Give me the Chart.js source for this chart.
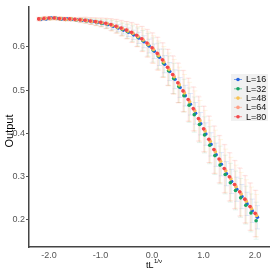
<!DOCTYPE html>
<html>
<head>
<meta charset="utf-8">
<script src="https://cdn.jsdelivr.net/npm/chart.js@4"></script>
<style>
html,body{margin:0;padding:0;background:#fff;}
#wrap{width:273px;height:273px;position:relative;}
</style>
</head>
<body>
<div id="wrap"><canvas id="c"></canvas></div>
<script>
// ---- data ----
const tGrid = [-2.2,-2.1,-2.0,-1.9,-1.8,-1.7,-1.6,-1.5,-1.4,-1.3,-1.2,-1.1,-1.0,-0.9,-0.8,-0.7,-0.6,-0.5,-0.4,-0.3,-0.2,-0.1,0.0,0.1,0.2,0.3,0.4,0.5,0.6,0.7,0.8,0.9,1.0,1.1,1.2,1.3,1.4,1.5,1.6,1.7,1.8,1.9,2.0];
const labels = ["L=16","L=32","L=48","L=64","L=80"];
const xShift = [0.045, 0.02, 0.03, 0.015, 0.0];
const yL16 = [.664,.665,.667,.666,.665,.665,.664,.663,.662,.661,.659,.657,.655,.652,.648,.644,.639,.634,.628,.621,.612,.602,.590,.576,.560,.543,.525,.506,.487,.467,.446,.422,.398,.374,.350,.328,.306,.288,.270,.253,.236,.220,.205];
const yL32 = [.665,.666,.666,.667,.665,.664,.664,.663,.662,.661,.659,.657,.655,.653,.650,.646,.641,.636,.631,.623,.615,.605,.593,.579,.563,.545,.527,.508,.487,.465,.443,.420,.396,.372,.348,.326,.304,.285,.267,.250,.233,.215,.197];
const yL48 = [.665,.666,.666,.666,.666,.664,.665,.663,.663,.661,.659,.658,.656,.654,.650,.646,.642,.637,.632,.624,.616,.606,.594,.580,.565,.548,.531,.512,.493,.473,.452,.429,.405,.381,.357,.335,.313,.294,.276,.259,.242,.225,.209];
const yL64 = [.664,.667,.666,.667,.665,.665,.664,.664,.662,.662,.660,.658,.657,.654,.651,.648,.643,.639,.633,.626,.618,.608,.597,.584,.569,.552,.534,.516,.497,.477,.455,.432,.409,.385,.361,.339,.317,.298,.280,.262,.246,.229,.213];
const yL80 = [.665,.666,.667,.667,.666,.665,.665,.664,.663,.662,.660,.659,.657,.655,.652,.648,.644,.639,.634,.627,.619,.609,.598,.585,.570,.553,.536,.517,.498,.478,.457,.434,.410,.386,.362,.340,.318,.299,.281,.264,.247,.230,.214];
const eL16 = [.002,.002,.002,.002,.002,.002,.002,.002,.003,.003,.004,.004,.005,.006,.007,.008,.009,.010,.011,.013,.014,.016,.017,.019,.020,.021,.022,.023,.024,.025,.025,.026,.026,.027,.027,.027,.028,.028,.028,.028,.027,.027,.027];
const eL32 = [.003,.003,.003,.003,.003,.003,.003,.003,.005,.005,.006,.007,.008,.010,.011,.013,.014,.016,.018,.021,.023,.026,.028,.030,.032,.034,.035,.037,.038,.040,.041,.042,.042,.043,.044,.044,.045,.045,.045,.045,.044,.044,.043];
const eL48 = [.004,.004,.004,.004,.004,.004,.004,.004,.005,.006,.007,.008,.009,.011,.013,.014,.016,.018,.021,.023,.026,.029,.032,.034,.036,.038,.040,.041,.043,.045,.046,.047,.048,.049,.050,.050,.050,.050,.050,.050,.050,.050,.049];
const eL64 = [.004,.004,.004,.004,.004,.004,.004,.004,.006,.007,.008,.009,.010,.012,.014,.016,.018,.020,.023,.026,.029,.032,.035,.038,.040,.042,.044,.046,.048,.050,.051,.052,.053,.054,.055,.055,.056,.056,.056,.056,.055,.055,.054];
const eL80 = [.004,.004,.004,.004,.004,.004,.004,.004,.006,.007,.008,.009,.010,.012,.014,.016,.018,.020,.023,.026,.029,.032,.035,.038,.040,.042,.044,.046,.048,.050,.051,.052,.053,.054,.055,.055,.056,.056,.056,.056,.055,.055,.054];
const xTicks = [-2.0,-1.0,0.0,1.0,2.0];
const yTicks = [0.2,0.3,0.4,0.5,0.6];

const yVals = [yL16,yL32,yL48,yL64,yL80];
const eVals = [eL16,eL32,eL48,eL64,eL80];
const colors = ['#2563e0','#17a463','#f8c352','#ff9e85','#f3474b'];
const barColors = ['rgba(37,99,224,0.13)','rgba(23,164,99,0.10)','rgba(248,195,82,0.14)','rgba(255,158,133,0.16)','rgba(243,71,75,0.10)'];

const datasets = labels.map((lab,i)=>({
  label: lab,
  data: tGrid.map((t,j)=>({x: t + xShift[i], y: yVals[i][j], e: eVals[i][j]})),
  backgroundColor: colors[i],
  borderColor: colors[i],
  pointRadius: 1.8,
  pointBorderWidth: 0,
  showLine: false,
  order: labels.length - i,
  errColor: barColors[i]
}));

const FONT = '"Liberation Sans", Arial, sans-serif';

const errPlugin = {
  id: 'errbars',
  beforeDatasetsDraw(chart){
    const {ctx, scales:{x, y}} = chart;
    ctx.save();
    ctx.lineWidth = 1;
    chart.data.datasets.forEach(ds=>{
      ctx.strokeStyle = ds.errColor;
      ds.data.forEach(p=>{
        const px = x.getPixelForValue(p.x);
        const y1 = y.getPixelForValue(p.y - p.e);
        const y2 = y.getPixelForValue(p.y + p.e);
        ctx.beginPath();
        ctx.moveTo(px, y1); ctx.lineTo(px, y2);
        ctx.moveTo(px-2.5, y1); ctx.lineTo(px+2.5, y1);
        ctx.moveTo(px-2.5, y2); ctx.lineTo(px+2.5, y2);
        ctx.stroke();
      });
    });
    ctx.restore();
  }
};

const decoPlugin = {
  id: 'deco',
  afterDraw(chart){
    const {ctx} = chart;
    ctx.save();
    ctx.fillStyle = '#000';
    ctx.font = '11px ' + FONT;
    ctx.translate(10, 131);
    ctx.rotate(-Math.PI/2);
    ctx.textAlign = 'center';
    ctx.textBaseline = 'middle';
    ctx.fillText('Output', 0, 0);
    ctx.restore();
    ctx.save();
    ctx.fillStyle = '#000';
    ctx.textBaseline = 'alphabetic';
    ctx.textAlign = 'left';
    ctx.font = '9px ' + FONT;
    const w = ctx.measureText('tL').width;
    const x0 = 146;
    ctx.fillText('tL', x0, 268);
    ctx.font = '6px ' + FONT;
    ctx.fillText('1/\u03BD', x0 + w + 0.5, 263);
    ctx.restore();
    ctx.save();
    ctx.fillStyle = '#f1f1f1';
    ctx.fillRect(231, 74, 37, 47);
    ctx.font = '9px ' + FONT;
    ctx.textBaseline = 'middle';
    ctx.textAlign = 'left';
    chart.data.datasets.forEach((ds,i)=>{
      const yy = 79.5 + i*9.3;
      ctx.strokeStyle = ds.borderColor;
      ctx.globalAlpha = 0.6;
      ctx.lineWidth = 1;
      ctx.beginPath(); ctx.moveTo(234, yy); ctx.lineTo(242, yy); ctx.stroke();
      ctx.globalAlpha = 1;
      ctx.fillStyle = ds.backgroundColor;
      ctx.beginPath(); ctx.arc(238, yy, 1.8, 0, Math.PI*2); ctx.fill();
      ctx.fillStyle = '#111';
      ctx.fillText(ds.label, 246, yy + 0.5);
    });
    ctx.restore();
  }
};

new Chart(document.getElementById('c'), {
  type: 'scatter',
  data: { datasets },
  options: {
    responsive: true,
    maintainAspectRatio: false,
    devicePixelRatio: 1,
    animation: false,
    layout: { padding: { left: 0, top: 3, right: 3, bottom: 0 } },
    plugins: { legend: { display: false }, tooltip: { enabled: false } },
    scales: {
      x: {
        type: 'linear',
        min: -2.387, max: 2.27,
        afterBuildTicks(s){ s.ticks = xTicks.map(v=>({value:v})); },
        afterFit(s){ s.height = 26; },
        ticks: { font: { size: 9, family: FONT }, color: '#555', padding: 1, maxRotation: 0,
                 callback: v => v.toFixed(1) },
        grid: { display: true, drawOnChartArea: false, drawTicks: true, tickLength: 2, color: 'rgba(0,0,0,0)' },
        border: { display: true, color: '#444', width: 1.5 }
      },
      y: {
        type: 'linear',
        min: 0.136, max: 0.694,
        afterBuildTicks(s){ s.ticks = yTicks.map(v=>({value:v})); },
        afterFit(s){ s.width = 29; },
        ticks: { font: { size: 9, family: FONT }, color: '#555', padding: 1,
                 callback: v => v.toFixed(1) },
        grid: { display: true, drawOnChartArea: false, drawTicks: true, tickLength: 3, color: '#555' },
        border: { display: true, color: '#444', width: 1.5 }
      }
    }
  },
  plugins: [errPlugin, decoPlugin]
});
</script>
</body>
</html>
